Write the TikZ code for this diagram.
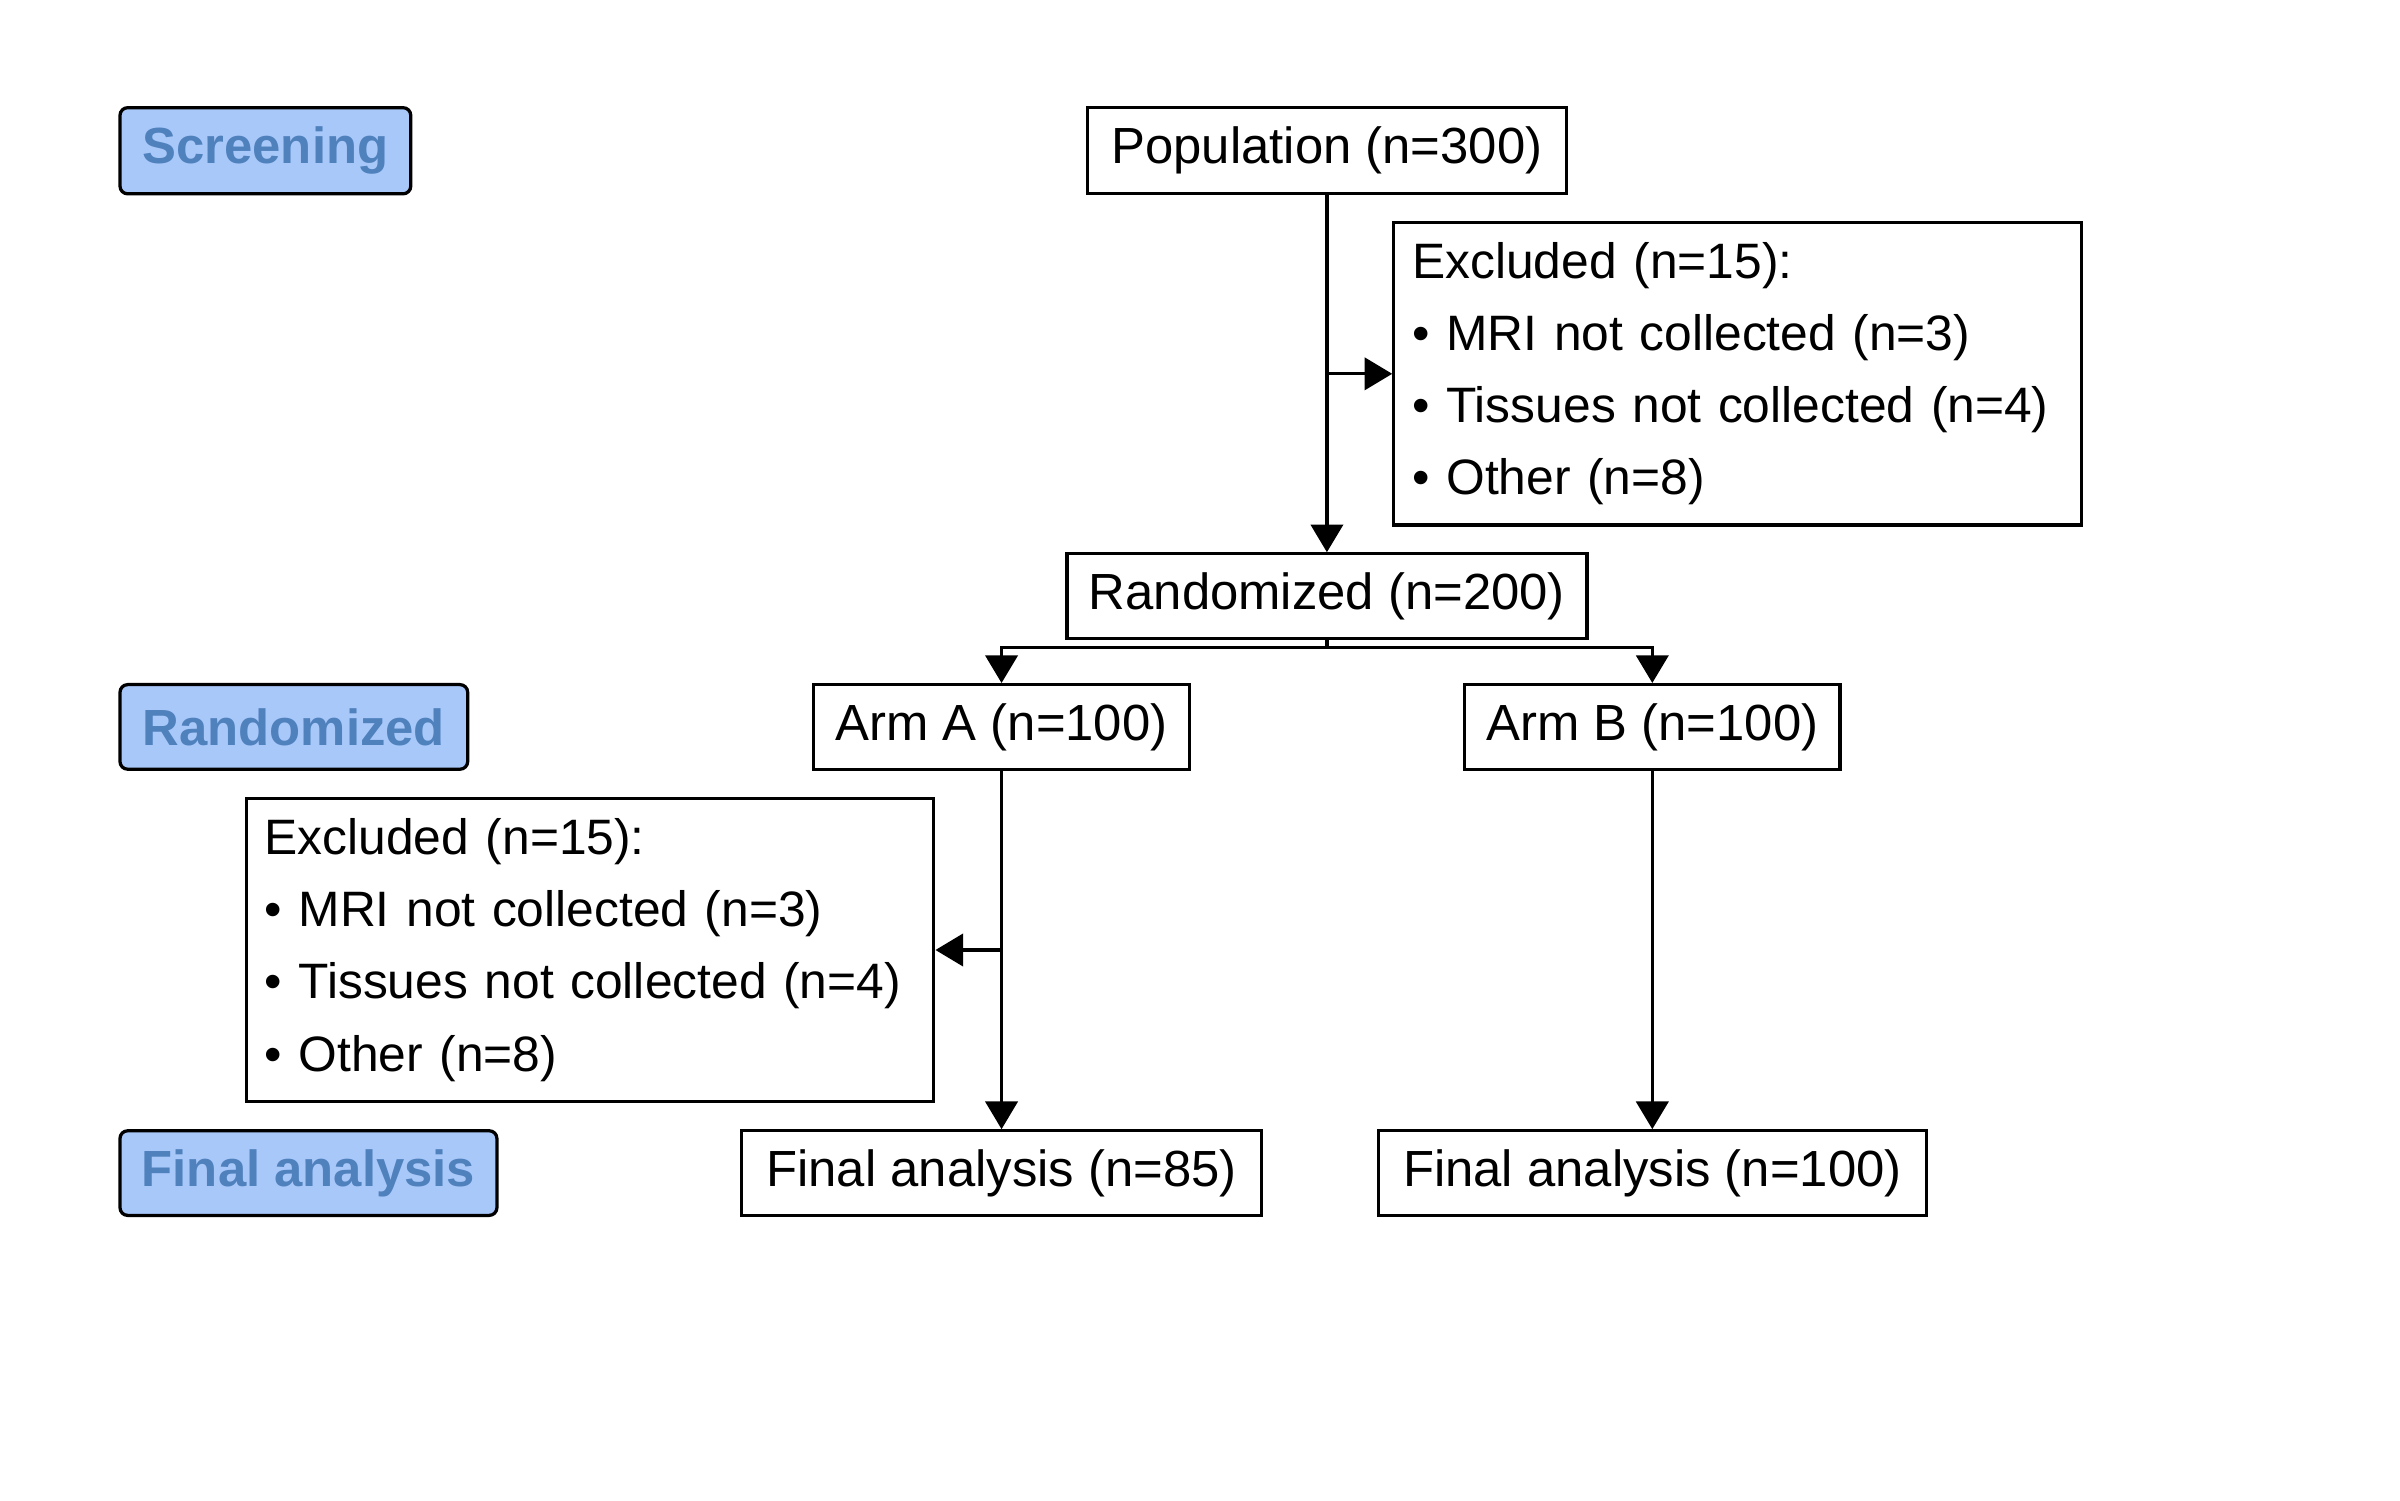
\documentclass[tikz,border=0pt]{standalone}
\usepackage{fontspec}
\setmainfont{Liberation Sans}
\usetikzlibrary{arrows.meta,calc}

\definecolor{stagefill}{HTML}{A9C8FA}
\definecolor{stagetext}{HTML}{4F81BD}

\tikzset{
  box/.style={draw, line width=1.2pt, minimum height=1.1cm, inner sep=0pt,
    font=\fontsize{18.8}{26.7}\selectfont},
  stage/.style={box, rounded corners=0.1cm, fill=stagefill, text=stagetext,
    font=\fontsize{18.8}{26.7}\selectfont\bfseries},
  excl/.style={box, align=left, text width=8.46cm, inner xsep=0.24cm, minimum height=3.93cm,
    font=\fontsize{18.4}{26.7}\selectfont},
  arr/.style={-{Triangle[width=0.42cm,length=0.36cm]}, line width=1.2pt}
}

\begin{document}
\begin{tikzpicture}
  \useasboundingbox (0,0) rectangle (31.2,19.5);
  \def\xa{13.02} % x of arm A column
  \def\xb{21.48} % x of arm B column
  % stage labels on the left
  \node[stage, minimum width=3.78cm, minimum height=1.12cm] (lscreen) at (3.45,17.54) {Screening};
  \node[stage, minimum width=4.52cm] (lrand) at (3.82,10.05) {Randomized};
  \node[stage, minimum width=4.9cm] (lfinal) at (4.01,4.25) {Final analysis};
  % flow boxes
  \node[box, minimum width=6.22cm, minimum height=1.12cm] (pop) at (17.25,17.54) {Population (n=300)};
  \node[excl] (excl1) at (22.59,14.64) {Excluded (n=15):\\• MRI not collected (n=3)\\• Tissues not collected (n=4)\\• Other (n=8)};
  \node[box, minimum width=6.76cm] (rand) at (17.25,11.75) {Randomized (n=200)};
  \node[box, minimum width=4.88cm] (armA) at (\xa,10.05) {Arm A (n=100)};
  \node[box, minimum width=4.88cm] (armB) at (\xb,10.05) {Arm B (n=100)};
  \node[excl] (excl2) at (7.67,7.15) {Excluded (n=15):\\• MRI not collected (n=3)\\• Tissues not collected (n=4)\\• Other (n=8)};
  \node[box, minimum width=6.76cm] (finA) at (\xa,4.25) {Final analysis (n=85)};
  \node[box, minimum width=7.12cm] (finB) at (\xb,4.25) {Final analysis (n=100)};
  % connectors
  \draw[arr] (pop) -- (rand);
  \draw[arr] (pop.south |- excl1.west) -- (excl1.west);
  \coordinate (split) at ($(rand.south)+(0,-0.1)$);
  \draw[line width=1.2pt] (rand.south) -- (split);
  \draw[arr] (split) -| (armA);
  \draw[arr] (split) -| (armB);
  \draw[arr] (armA) -- (finA);
  \draw[arr] (armA.south |- excl2.east) -- (excl2.east);
  \draw[arr] (armB) -- (finB);
\end{tikzpicture}
\end{document}
